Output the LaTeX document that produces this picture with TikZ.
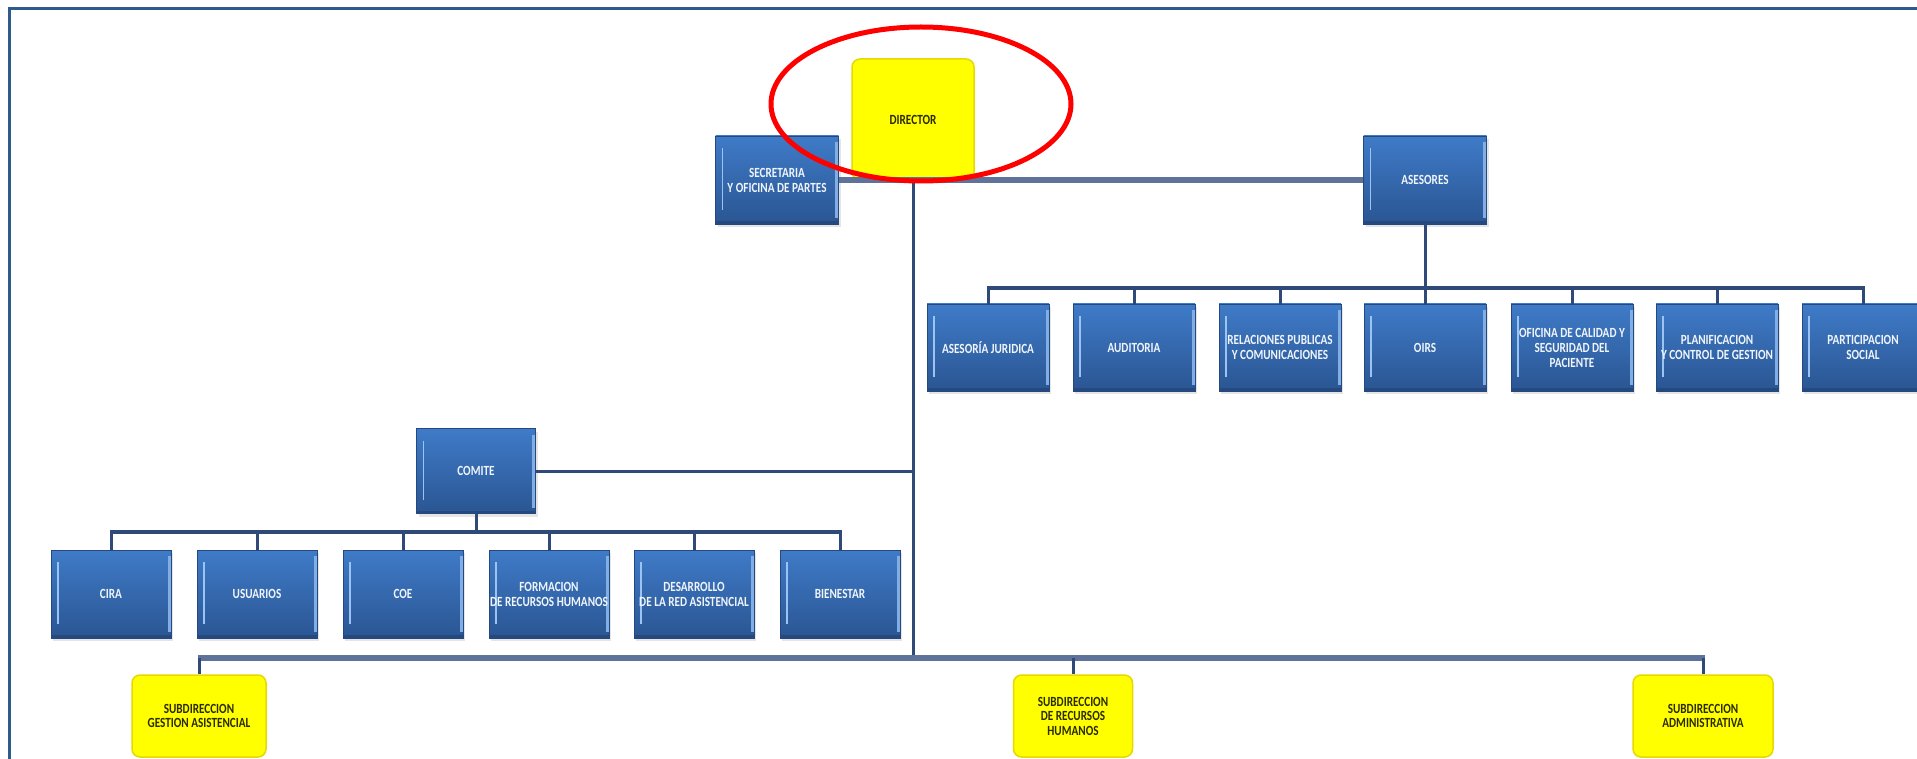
\documentclass[tikz,border=0pt]{standalone}
\usepackage{fontspec}
\newfontfamily\boxfont[FakeStretch=0.8]{Carlito Bold}
\usetikzlibrary{shadows}
\definecolor{framec}{HTML}{2E5A8C}
\definecolor{boxtop}{HTML}{3F7BC8}
\definecolor{boxbot}{HTML}{2A5592}
\definecolor{boxedge}{HTML}{25497E}
\definecolor{hilite}{HTML}{9CC4F2}
\definecolor{navy}{HTML}{2F4A78}
\definecolor{greyblue}{HTML}{5F7299}
\definecolor{yel}{HTML}{FFFF00}
\definecolor{yeledge}{HTML}{E6D800}
\definecolor{yeltext}{HTML}{2B2B00}
\tikzset{
  bluebox/.style={rectangle, minimum width=122, minimum height=87, inner sep=0,
    top color=boxtop, bottom color=boxbot, draw=boxedge, line width=0.8,
    text=white!92!boxtop, align=center, font=\boxfont\fontsize{14}{15}\selectfont,
    drop shadow={opacity=0.2, shadow xshift=2pt, shadow yshift=-3pt},
    path picture={
      \draw[hilite, line width=1.6] ([xshift=7pt,yshift=-12pt]path picture bounding box.north west) -- ([xshift=7pt,yshift=14pt]path picture bounding box.south west);
      \draw[hilite!70!boxtop, line width=3] ([xshift=-2pt,yshift=-6pt]path picture bounding box.north east) -- ([xshift=-2pt,yshift=6pt]path picture bounding box.south east);
      \draw[boxedge, line width=3] ([yshift=1.5pt]path picture bounding box.south west) -- ([yshift=1.5pt]path picture bounding box.south east);
    }},
  yelbox/.style={rectangle, rounded corners=8, minimum width=122, minimum height=82, inner sep=0,
    fill=yel, draw=yeledge, line width=1.5, text=yeltext, align=center,
    font=\boxfont\fontsize{14}{14.5}\selectfont},
  lineA/.style={navy, line width=3},
  lineBar/.style={navy, line width=4},
  lineG/.style={greyblue, line width=6},
}
\begin{document}
\begin{tikzpicture}[x=1pt,y=-1pt]
\useasboundingbox (0,0) rectangle (1917,759);
\clip (0,0) rectangle (1917,759);
\fill[white] (0,0) rectangle (1917,759);
\draw[framec, line width=3] (9,790) -- (9,9) -- (1950,9);

% top level
\node[yelbox, minimum width=122, minimum height=121] (dir) at (913,119.5) {DIRECTOR};
\node[bluebox, minimum width=123, minimum height=88] (sec) at (777,180) {SECRETARIA\\Y OFICINA DE PARTES};
\node[bluebox, minimum width=123, minimum height=88] (ases) at (1425,180) {ASESORES};

% advisors
\node[bluebox] (a1) at (988,347.5) {ASESORÍA JURIDICA};
\node[bluebox] (a2) at (1134,347.5) {AUDITORIA};
\node[bluebox] (a3) at (1280,347.5) {RELACIONES PUBLICAS\\Y COMUNICACIONES};
\node[bluebox] (a4) at (1425,347.5) {OIRS};
\node[bluebox] (a5) at (1572,347.5) {OFICINA DE CALIDAD Y\\SEGURIDAD DEL\\PACIENTE};
\node[bluebox] (a6) at (1717,347.5) {PLANIFICACION\\Y CONTROL DE GESTION};
\node[bluebox] (a7) at (1863,347.5) {PARTICIPACION\\SOCIAL};

% comite
\node[bluebox, minimum width=119, minimum height=85] (com) at (476,471) {COMITE};
\node[bluebox, minimum width=120, minimum height=88] (c1) at (111,594) {CIRA};
\node[bluebox, minimum width=120, minimum height=88] (c2) at (257,594) {USUARIOS};
\node[bluebox, minimum width=120, minimum height=88] (c3) at (403,594) {COE};
\node[bluebox, minimum width=120, minimum height=88] (c4) at (549,594) {FORMACION\\DE RECURSOS HUMANOS};
\node[bluebox, minimum width=120, minimum height=88] (c5) at (694,594) {DESARROLLO\\DE LA RED ASISTENCIAL};
\node[bluebox, minimum width=120, minimum height=88] (c6) at (840,594) {BIENESTAR};

% subdirecciones
\node[yelbox, minimum width=134] (s1) at (199,716) {SUBDIRECCION\\GESTION ASISTENCIAL};
\node[yelbox, minimum width=119] (s2) at (1073,716) {SUBDIRECCION\\DE RECURSOS\\HUMANOS};
\node[yelbox, minimum width=140] (s3) at (1703,716) {SUBDIRECCION\\ADMINISTRATIVA};

% junctions
\coordinate (advj) at (1425,288);
\coordinate (comj) at (476,532);
\coordinate (botj) at (913,658);

% connectors
\draw[lineG] (sec.east) -- (ases.west);
\draw[lineA] (dir.south) -- (botj);
\draw[lineA] (com.east) -- (com.east -| dir.south);
\draw[lineA] (ases.south) -- (advj);
\draw[lineBar] ([xshift=-1.5pt]a1.north |- advj) -- ([xshift=1.5pt]a7.north |- advj);
\foreach \n in {a1,a2,a3,a5,a6,a7} \draw[lineA] (\n.north |- advj) -- (\n.north);
\draw[lineA] (advj) -- (a4.north);
\draw[lineA] (com.south) -- (comj);
\draw[lineBar] ([xshift=-1.5pt]c1.north |- comj) -- ([xshift=1.5pt]c6.north |- comj);
\foreach \n in {c1,c2,c3,c4,c5,c6} \draw[lineA] (\n.north |- comj) -- (\n.north);
\draw[lineG] ([xshift=-1.5pt]s1.north |- botj) -- ([xshift=1.5pt]s3.north |- botj);
\foreach \n in {s1,s2,s3} \draw[lineA] (\n.north |- botj) -- (\n.north);

% red highlight
\draw[red, line width=5] (921,104) ellipse [x radius=150, y radius=77];
\end{tikzpicture}
\end{document}
